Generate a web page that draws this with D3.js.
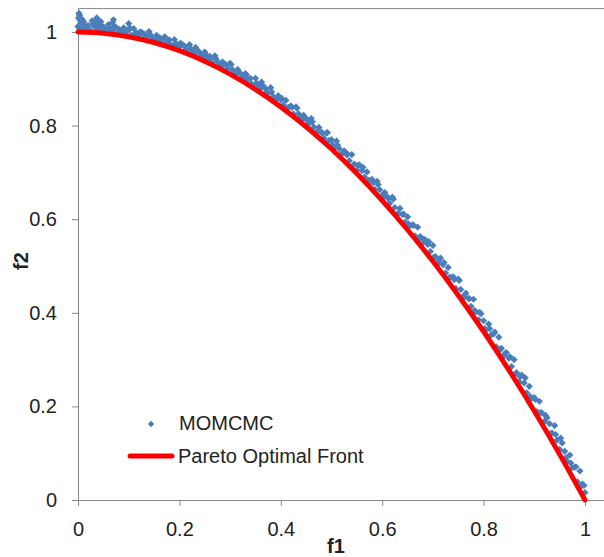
<!DOCTYPE html>
<html>
<head>
<meta charset="utf-8">
<script src="https://cdn.jsdelivr.net/npm/d3@7"></script>
<style>
  body { margin: 0; background: #fff; }
  text { font-family: "Liberation Sans", Arial, sans-serif; fill: #222; }
</style>
</head>
<body>
<div id="chart"></div>
<script>
// ticks
var xTicks = [0, 0.2, 0.4, 0.6, 0.8, 1];
var yTicks = [0, 0.2, 0.4, 0.6, 0.8, 1];

// Pareto optimal front
var frontF1 = [0, 0.05, 0.1, 0.15, 0.2, 0.25, 0.3, 0.35, 0.4, 0.45, 0.5,
               0.55, 0.6, 0.65, 0.7, 0.75, 0.8, 0.85, 0.9, 0.95, 1];
var frontF2 = [1, 0.9975, 0.99, 0.9775, 0.96, 0.9375, 0.91, 0.8775, 0.84, 0.7975, 0.75,
               0.6975, 0.64, 0.5775, 0.51, 0.4375, 0.36, 0.2775, 0.19, 0.0975, 0];

// MOMCMC samples [f1, f2]
var momcmc = [
  [0,1.012],[.005,1.006],[.01,1.017],[.015,1.009],[.02,1.014],[.025,1.003],[.03,1.018],[.035,1.010],
  [.04,1.005],[.045,1.013],[.05,1.011],[.055,1.005],[.06,1.016],[.065,1.006],[.07,1.000],[.075,1.010],
  [.08,1.006],[.085,.999],[.09,1.009],[.095,1.000],[.1,1.004],[.105,.993],[.11,1.007],[.115,.998],
  [.12,.993],[.125,1.000],[.13,.996],[.135,.990],[.14,1.001],[.145,.989],[.15,.983],[.155,.993],
  [.16,.987],[.165,.979],[.17,.989],[.175,.979],[.18,.983],[.185,.970],[.19,.984],[.195,.974],
  [.2,.968],[.205,.974],[.21,.970],[.215,.962],[.22,.973],[.225,.960],[.23,.953],[.235,.962],
  [.24,.956],[.245,.947],[.25,.957],[.255,.945],[.26,.948],[.265,.934],[.27,.949],[.275,.937],
  [.28,.930],[.285,.936],[.29,.931],[.295,.922],[.3,.933],[.305,.919],[.31,.910],[.315,.920],
  [.32,.912],[.325,.902],[.33,.911],[.335,.899],[.34,.901],[.345,.886],[.35,.901],[.355,.887],
  [.36,.879],[.365,.885],[.37,.879],[.375,.869],[.38,.881],[.385,.862],[.39,.854],[.395,.864],
  [.4,.855],[.405,.844],[.41,.854],[.415,.839],[.42,.842],[.425,.825],[.43,.840],[.435,.825],
  [.44,.816],[.445,.822],[.45,.815],[.455,.804],[.46,.815],[.465,.797],[.47,.786],[.475,.796],
  [.48,.786],[.485,.773],[.49,.784],[.495,.768],[.5,.770],[.505,.751],[.51,.767],[.515,.751],
  [.52,.740],[.525,.746],[.53,.738],[.535,.725],[.54,.738],[.545,.718],[.55,.705],[.555,.716],
  [.56,.704],[.565,.690],[.57,.701],[.575,.683],[.58,.685],[.585,.664],[.59,.681],[.595,.663],
  [.6,.651],[.605,.657],[.61,.648],[.615,.634],[.62,.647],[.625,.625],[.63,.611],[.635,.623],
  [.64,.610],[.645,.594],[.65,.605],[.655,.586],[.66,.588],[.665,.564],[.67,.583],[.675,.563],
  [.68,.549],[.685,.556],[.69,.546],[.695,.531],[.7,.544],[.705,.520],[.71,.505],[.715,.517],
  [.72,.503],[.725,.485],[.73,.497],[.735,.476],[.74,.477],[.745,.452],[.75,.472],[.755,.450],
  [.76,.435],[.765,.442],[.77,.431],[.775,.414],[.78,.429],[.785,.402],[.79,.385],[.795,.398],
  [.8,.383],[.805,.363],[.81,.376],[.815,.353],[.82,.355],[.825,.327],[.83,.348],[.835,.324],
  [.84,.308],[.845,.315],[.85,.303],[.855,.285],[.86,.300],[.865,.272],[.87,.253],[.875,.267],
  [.88,.250],[.885,.229],[.89,.243],[.895,.217],[.9,.219],[.905,.189],[.91,.211],[.915,.186],
  [.92,.168],[.925,.176],[.93,.163],[.935,.143],[.94,.159],[.945,.128],[.95,.108],[.955,.122],
  [.96,.104],[.965,.082],[.97,.096],[.975,.069],[.98,.070],[.985,.039],[.99,.062],[.995,.034],
  [1,.016],
  [.002,1.009],[.012,1.015],[.022,1.004],[.032,1.012],[.042,1.016],[.052,1.004],[.062,1.007],
  [.072,1.011],[.082,.999],[.092,1.004],[.102,1.009],[.112,.996],[.122,1.000],[.132,.992],
  [.142,.995],[.152,.982],[.162,.987],[.172,.989],[.182,.974],[.192,.975],[.202,.976],[.212,.962],
  [.222,.964],[.232,.967],[.242,.950],[.252,.952],[.262,.942],[.272,.943],[.282,.926],[.292,.930],
  [.302,.930],[.312,.911],[.322,.909],[.332,.909],[.342,.890],[.352,.891],[.362,.893],[.372,.872],
  [.382,.872],[.392,.858],[.402,.858],[.412,.837],[.422,.839],[.432,.837],[.442,.814],[.452,.811],
  [.462,.808],[.472,.785],[.482,.784],[.492,.785],[.502,.759],[.512,.758],[.522,.741],[.532,.739],
  [.542,.714],[.552,.715],[.562,.711],[.572,.683],[.582,.678],[.592,.674],[.602,.647],[.612,.644],
  [.622,.643],[.632,.613],[.642,.611],[.652,.590],[.662,.587],[.672,.557],[.682,.557],[.692,.552],
  [.702,.519],[.712,.512],[.722,.507],[.732,.475],[.742,.471],[.752,.469],[.762,.434],[.772,.430],
  [.782,.405],[.792,.401],[.802,.366],[.812,.366],[.822,.359],[.832,.321],[.842,.313],[.852,.306],
  [.862,.269],[.872,.264],[.882,.261],[.892,.221],[.902,.215],[.912,.187],[.922,.181],[.932,.142],
  [.942,.140],[.952,.132],[.962,.090],[.972,.079],[.982,.071],[.992,.029],[.998,.031],
  [.001,1.030],[.002,1.040],[.003,1.036],[.004,1.025],[.006,1.021],[.008,1.027],[.011,1.022],
  [.028,1.024],[.033,1.020],[.037,1.030],[.040,1.024],[.045,1.022],[.068,1.020],[.07,1.026],[.1,1.018]
];

var seriesNames = ["MOMCMC", "Pareto Optimal Front"];

var width = 604, height = 557;

var svg = d3.select("#chart")
    .append("svg")
    .attr("width", width)
    .attr("height", height);

var x = d3.scaleLinear().domain([0, 1.05]).range([78, 78 + 1.05 * 507]);
var y = d3.scaleLinear().domain([0, 1.05]).range([500, 500 - 1.05 * 468]);

var axisColor = "#868686";

// plot area top border
svg.append("line")
    .attr("x1", x(0)).attr("x2", x(1.05))
    .attr("y1", y(1.05)).attr("y2", y(1.05))
    .attr("stroke", axisColor);

// x axis
var xAxis = svg.append("g")
    .attr("transform", "translate(0," + y(0) + ")")
    .call(d3.axisBottom(x).tickValues(xTicks).tickFormat(d3.format("")).tickSize(6).tickSizeOuter(0).tickPadding(16));
xAxis.select(".domain").attr("stroke", axisColor);
xAxis.selectAll(".tick line").attr("stroke", axisColor);
xAxis.selectAll("text").attr("font-size", 20).attr("font-family", null).attr("fill", "#222");

// y axis
var yAxis = svg.append("g")
    .attr("transform", "translate(" + x(0) + ",0)")
    .call(d3.axisLeft(y).tickValues(yTicks).tickFormat(d3.format("")).tickSize(6).tickSizeOuter(0).tickPadding(15));
yAxis.select(".domain").attr("stroke", axisColor);
yAxis.selectAll(".tick line").attr("stroke", axisColor);
yAxis.selectAll("text").attr("font-size", 20).attr("font-family", null).attr("fill", "#222");

// axis titles
svg.append("text")
    .attr("x", 336).attr("y", 553)
    .attr("text-anchor", "middle")
    .style("font-weight", "bold")
    .attr("font-size", 20)
    .text("f1");

svg.append("text")
    .attr("transform", "translate(28,261) rotate(-90)")
    .attr("text-anchor", "middle")
    .style("font-weight", "bold")
    .attr("font-size", 20)
    .text("f2");

var blue = "#4A7EBB";
var diamond = "M0,-3.6L3.6,0L0,3.6L-3.6,0Z";

//MOMCMC points
svg.append("g")
    .selectAll("path")
    .data(momcmc)
    .enter()
    .append("path")
    .attr("d", diamond)
    .attr("transform", function(d) {
        return "translate(" + x(d[0]) + "," + y(d[1]) + ")";
    })
    .attr("fill", blue);

//Pareto front line
var line = d3.line()
    .x(function(d, i) { return x(frontF1[i]); })
    .y(function(d, i) { return y(frontF2[i]); })
    .curve(d3.curveMonotoneX);

svg.append("path")
    .datum(frontF1)
    .attr("d", line)
    .attr("fill", "none")
    .attr("stroke", "#FF0000")
    .attr("stroke-width", 5)
    .attr("stroke-linecap", "round");

// legend
svg.append("path")
    .attr("d", "M0,-3.2L3.2,0L0,3.2L-3.2,0Z")
    .attr("transform", "translate(151,424)")
    .attr("fill", blue);
svg.append("text")
    .attr("x", 179).attr("y", 430)
    .attr("font-size", 20)
    .text(seriesNames[0]);

svg.append("line")
    .attr("x1", 130).attr("x2", 172)
    .attr("y1", 456).attr("y2", 456)
    .attr("stroke", "#FF0000")
    .attr("stroke-width", 5)
    .attr("stroke-linecap", "round");
svg.append("text")
    .attr("x", 178).attr("y", 463)
    .attr("font-size", 20)
    .text(seriesNames[1]);
</script>
</body>
</html>
